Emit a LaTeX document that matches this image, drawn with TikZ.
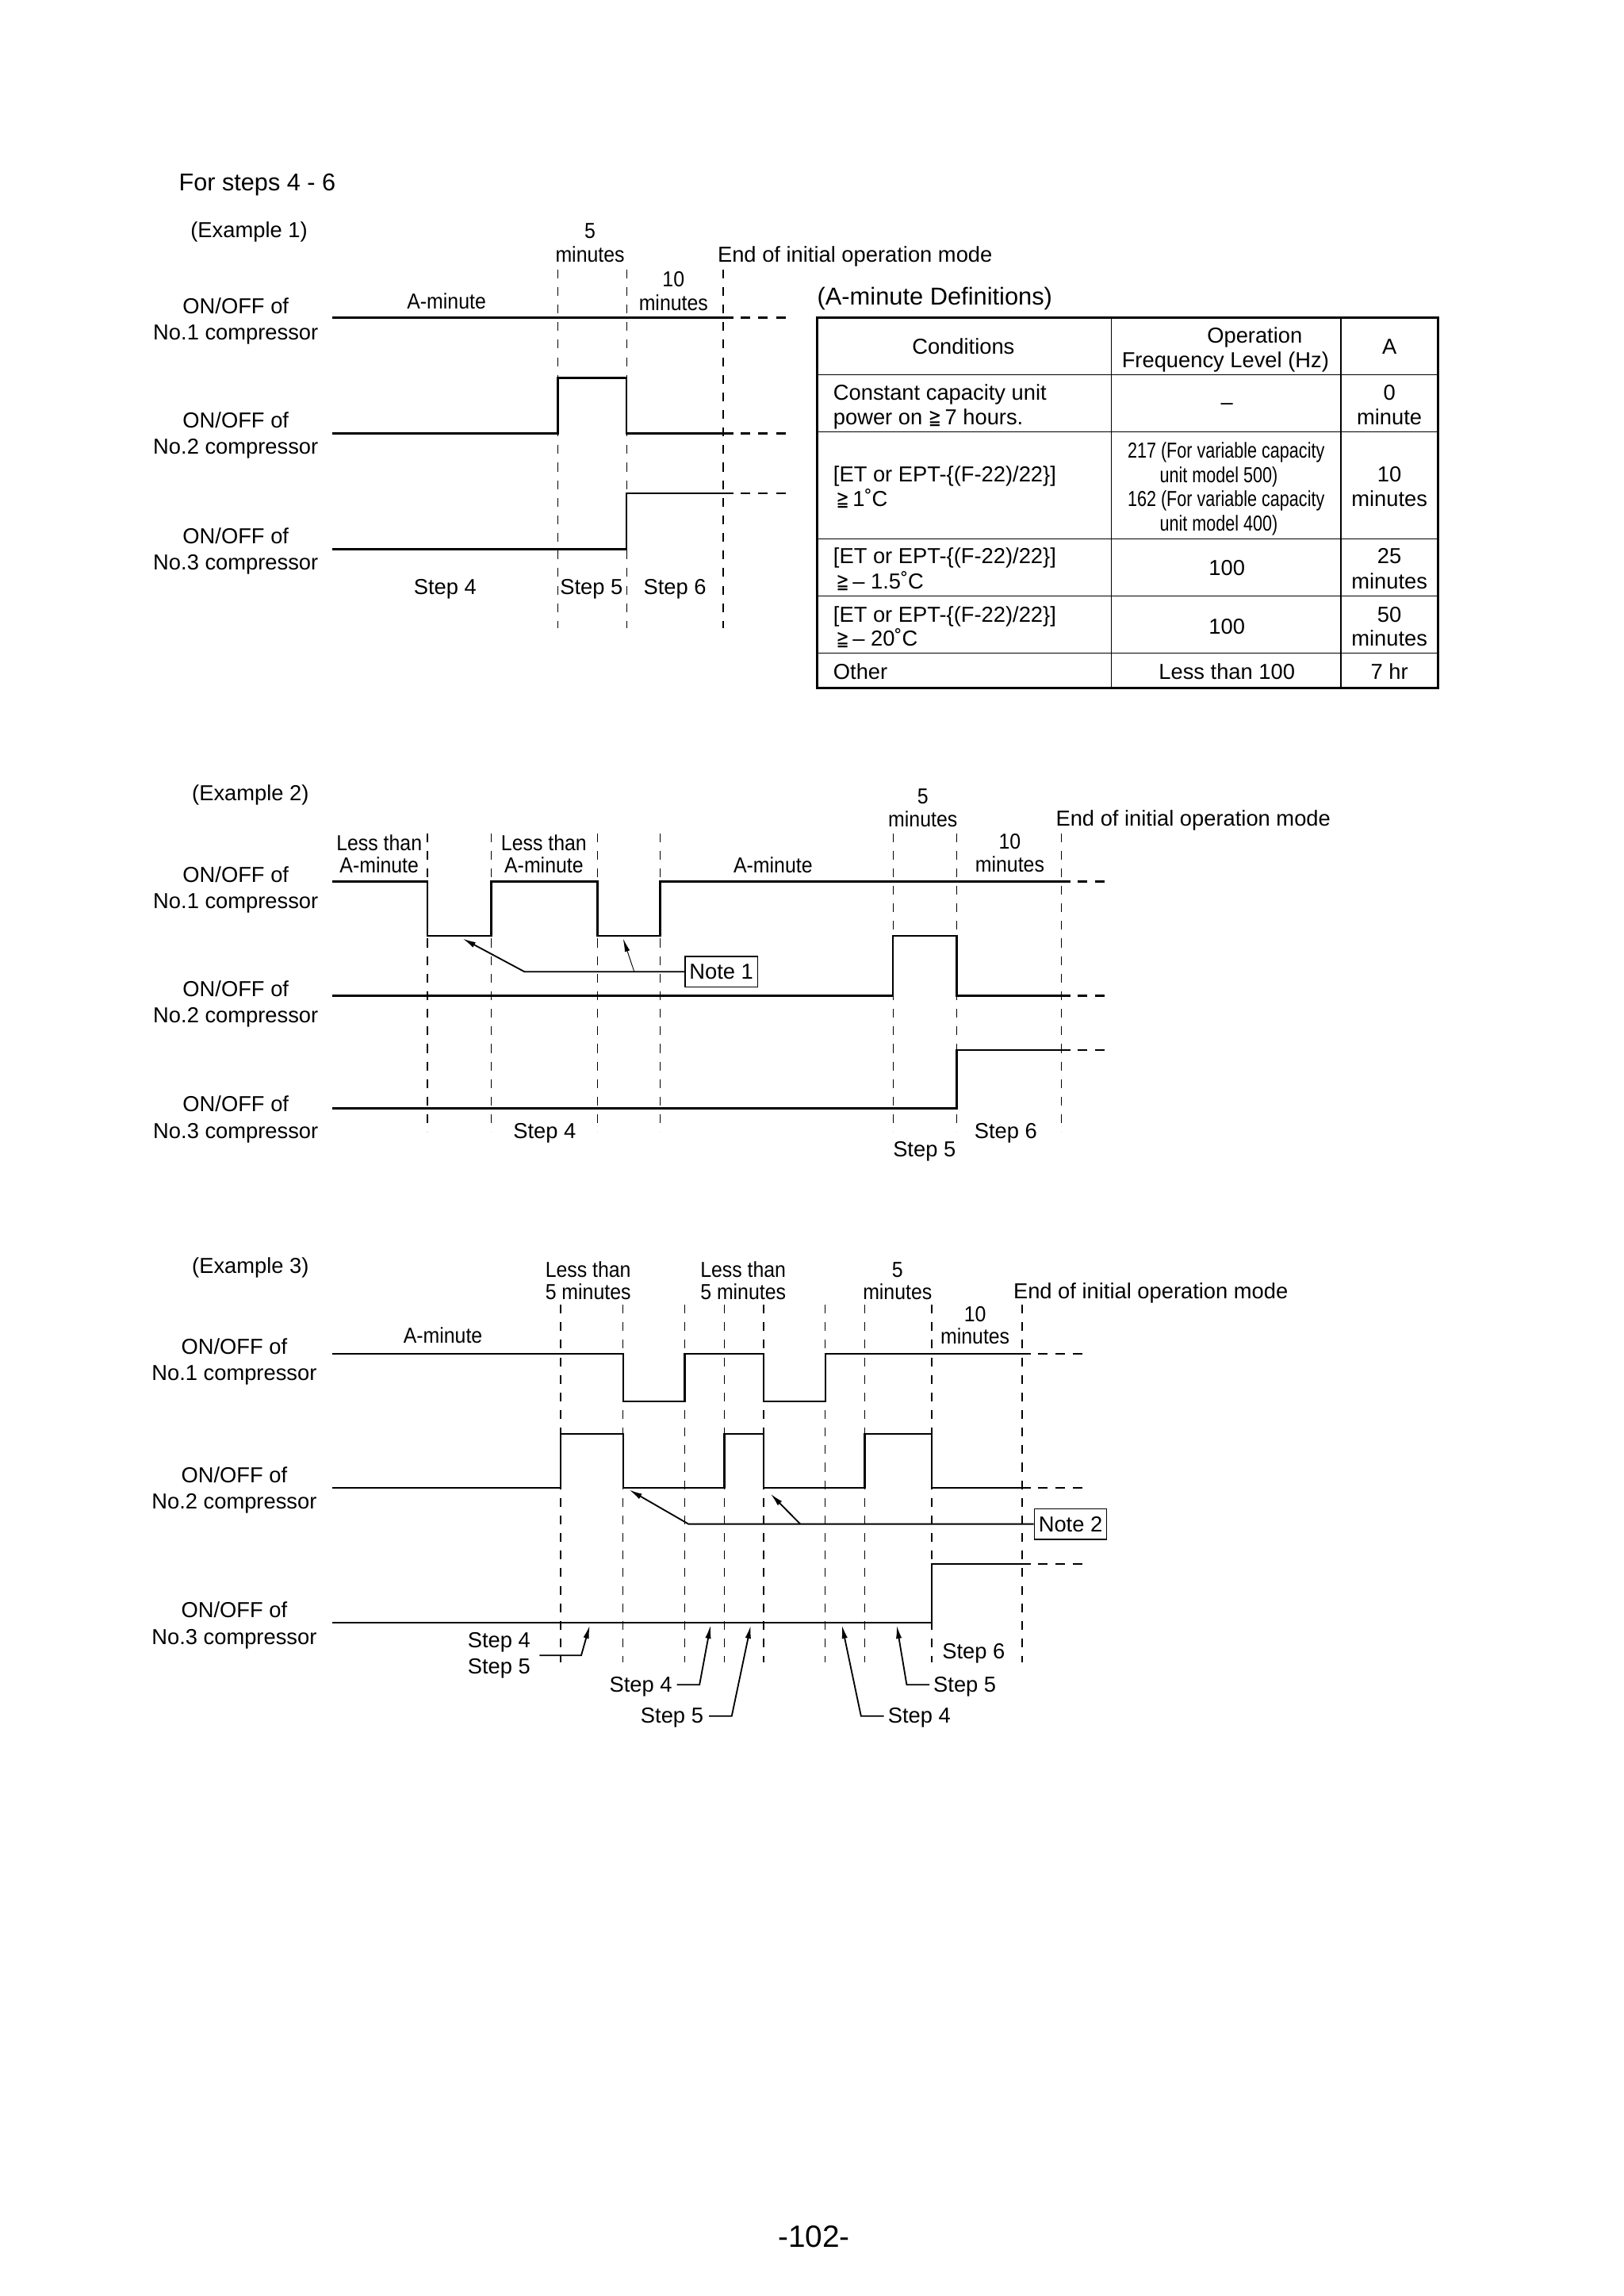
\documentclass[tikz,border=0pt]{standalone}
\usepackage{fontspec}
\setmainfont{Liberation Sans}
\newfontfamily\narrowfam[FakeStretch=0.91]{Liberation Sans}
\newfontfamily\xnarrowfam[FakeStretch=0.79]{Liberation Sans}
\newfontfamily\symfam[FakeStretch=0.72]{DejaVu Sans}
\usetikzlibrary{arrows.meta}
\newcommand\fmain{\fontsize{14.8}{18}\selectfont}
\newcommand\fnar{\narrowfam\fontsize{14.8}{15}\selectfont}
\newcommand\fxn{\xnarrowfam\fontsize{14.8}{16.5}\selectfont}
\newcommand\gqq{{\symfam\fontsize{14.5}{18}\selectfont ≧}}
\tikzset{
  sig/.style={line width=1.3pt, line join=miter, line cap=butt},
  tailline/.style={line width=1.3pt, dash pattern=on 6.5pt off 5.5pt},
  vguide/.style={line width=0.7pt, dash pattern=on 6pt off 6pt},
  txt/.style={inner sep=0pt, anchor=base, font=\fmain},
  nar/.style={inner sep=0pt, anchor=base, font=\fnar},
  xn/.style={inner sep=0pt, anchor=base west, font=\fxn},
  lab/.style={inner sep=0pt, align=center, font=\fmain, anchor=center},
  notebox/.style={draw, line width=0.8pt, inner sep=0pt, minimum width=49.5pt, minimum height=21pt, font=\fmain},
  lead/.style={line width=1.0pt, -{Latex[length=9pt,width=4pt]}},
  thinlead/.style={line width=0.5pt, -{Latex[length=9pt,width=3.5pt]}},
  tframe/.style={line width=1.6pt},
  tgrid/.style={line width=0.9pt},
}
\begin{document}
\begin{tikzpicture}[x=1pt,y=-1pt]
\fill[white] (0,0) rectangle (1109,1568);
\useasboundingbox (0,0) rectangle (1109,1568);

% ---------------- Title ----------------
\node[txt, anchor=base west, font=\fontsize{16.6}{20}\selectfont] (title) at (122,130) {For steps 4 - 6};

% ================= Example 1 =================
\node[txt, anchor=base west] (ex1) at (130,162) {(Example 1)};
\node[lab] (e1l1) at (161,219.5) {ON/OFF of\\No.1 compressor};
\node[lab] (e1l2) at (161,297.5) {ON/OFF of\\No.2 compressor};
\node[lab] (e1l3) at (161,376.5) {ON/OFF of\\No.3 compressor};

\foreach \x in {381,428,494} \draw[vguide] (\x,184) -- (\x,429);

\draw[sig] (227,217) -- (501,217);
\draw[tailline] (506,217) -- (537,217);
\draw[sig] (227,296) -- (381,296) -- (381,258) -- (428,258) -- (428,296) -- (501,296);
\draw[tailline] (506,296) -- (537,296);
\draw[sig] (227,375) -- (428,375) -- (428,337) -- (501,337);
\draw[tailline] (506,337) -- (537,337);

\node[nar] (e1t5) at (403,163) {5};
\node[nar] (e1t5m) at (403,179) {minutes};
\node[txt, anchor=base west] (e1end) at (490,179) {End of initial operation mode};
\node[nar] (e1t10) at (460,196) {10};
\node[nar] (e1t10m) at (460,212) {minutes};
\node[nar] (e1am) at (305,211) {A-minute};
\node[txt] (e1s4) at (304,406) {Step 4};
\node[txt] (e1s5) at (404,406) {Step 5};
\node[txt] (e1s6) at (461,406) {Step 6};

% ================= Table =================
\node[txt, anchor=base west, font=\fontsize{16.7}{20}\selectfont] (tdef) at (558,208) {(A-minute Definitions)};
\draw[tgrid] (759,217) -- (759,470) (916,217) -- (916,470);
\foreach \y in {256,295,368,407,446} \draw[tgrid] (558,\y) -- (982,\y);
\draw[tframe] (558,217) rectangle (982,470);

\node[txt] (th1) at (658,242) {Conditions};
\node[txt] (th2a) at (857,234) {Operation};
\node[txt] (th2b) at (837,251) {Frequency Level (Hz)};
\node[txt] (th3) at (949,242) {A};

\node[txt, anchor=base west] (r1a) at (569,273) {Constant capacity unit};
\node[txt, anchor=base west] (r1b) at (569,290) {power on \gqq\,7 hours.};
\node[txt] (r1f) at (838,280) {–};
\node[txt] (r1c) at (949,273) {0};
\node[txt] (r1d) at (949,290) {minute};

\node[txt, anchor=base west] (r2a) at (569,329) {[ET or EPT-\{(F-22)/22\}]};
\node[txt, anchor=base west] (r2b) at (571,346) {\gqq\,1˚C};
\node[xn] (r2f1) at (770,313) {217 (For variable capacity};
\node[xn] (r2f2) at (792,329.5) {unit model 500)};
\node[xn] (r2f3) at (770,346) {162 (For variable capacity};
\node[xn] (r2f4) at (792,362.5) {unit model 400)};
\node[txt] (r2c) at (949,329) {10};
\node[txt] (r2d) at (949,346) {minutes};

\node[txt, anchor=base west] (r3a) at (569,385) {[ET or EPT-\{(F-22)/22\}]};
\node[txt, anchor=base west] (r3b) at (571,402) {\gqq\,– 1.5˚C};
\node[txt] (r3f) at (838,393) {100};
\node[txt] (r3c) at (949,385) {25};
\node[txt] (r3d) at (949,402) {minutes};

\node[txt, anchor=base west] (r4a) at (569,425) {[ET or EPT-\{(F-22)/22\}]};
\node[txt, anchor=base west] (r4b) at (571,441) {\gqq\,– 20˚C};
\node[txt] (r4f) at (838,433) {100};
\node[txt] (r4c) at (949,425) {50};
\node[txt] (r4d) at (949,441) {minutes};

\node[txt, anchor=base west] (r5a) at (569,464) {Other};
\node[txt] (r5f) at (838,464) {Less than 100};
\node[txt] (r5c) at (949,464) {7 hr};

% ================= Example 2 =================
\node[txt, anchor=base west] (ex2) at (131,547) {(Example 2)};
\node[lab] (e2l1) at (161,607.5) {ON/OFF of\\No.1 compressor};
\node[lab] (e2l2) at (161,685.5) {ON/OFF of\\No.2 compressor};
\node[lab] (e2l3) at (161,764.5) {ON/OFF of\\No.3 compressor};

\foreach \x in {292,335.5,408,451,610,653.5,725} \draw[vguide] (\x,569) -- (\x,773);

\draw[sig] (227,602) -- (292,602) -- (292,639) -- (335.5,639) -- (335.5,602) -- (408,602) -- (408,639) -- (451,639) -- (451,602) -- (731,602);
\draw[tailline] (736,602) -- (759,602);
\draw[sig] (227,680) -- (610,680) -- (610,639) -- (653.5,639) -- (653.5,680) -- (731,680);
\draw[tailline] (736,680) -- (759,680);
\draw[sig] (227,757) -- (653.5,757) -- (653.5,717) -- (731,717);
\draw[tailline] (736,717) -- (759,717);

\node[nar] (e2la1) at (259,581) {Less than};
\node[nar] (e2la2) at (259,596) {A-minute};
\node[nar] (e2lb1) at (371.5,581) {Less than};
\node[nar] (e2lb2) at (371.5,596) {A-minute};
\node[nar] (e2am) at (528,596) {A-minute};
\node[nar] (e2t5) at (630.3,549) {5};
\node[nar] (e2t5m) at (630.3,564.5) {minutes};
\node[txt, anchor=base west] (e2end) at (721,564) {End of initial operation mode};
\node[nar] (e2t10) at (689.7,580) {10};
\node[nar] (e2t10m) at (689.7,595.5) {minutes};
\node[txt] (e2s4) at (372,777.5) {Step 4};
\node[txt] (e2s6) at (687,777.5) {Step 6};
\node[txt] (e2s5) at (631.4,790) {Step 5};

\node[notebox] (n1) at (492.7,663.6) {Note 1};
\coordinate (n1k) at (358.2,663.6);
\coordinate (n1b) at (433.2,663.6);
\coordinate (n1t1) at (316,641);
\coordinate (n1t2) at (425.6,641);
\draw[lead] (n1.west) -- (n1k) -- (n1t1);
\draw[thinlead] (n1b) -- (n1t2);

% ================= Example 3 =================
\node[txt, anchor=base west] (ex3) at (131,869.6) {(Example 3)};
\node[lab] (e3l1) at (160,929.8) {ON/OFF of\\No.1 compressor};
\node[lab] (e3l2) at (160,1017.5) {ON/OFF of\\No.2 compressor};
\node[lab] (e3l3) at (160,1110) {ON/OFF of\\No.3 compressor};

\foreach \x in {383,425.6,467.6,494.7,521.6,563.7,590.7,636.4,698.2} \draw[vguide] (\x,891) -- (\x,1135);

\draw[sig] (227,924.4) -- (425.6,924.4) -- (425.6,957.1) -- (467.6,957.1) -- (467.6,924.4) -- (521.6,924.4) -- (521.6,957.1) -- (563.7,957.1) -- (563.7,924.4) -- (704,924.4);
\draw[tailline] (709,924.4) -- (740,924.4);
\draw[sig] (227,1016.2) -- (383,1016.2) -- (383,979.4) -- (425.6,979.4) -- (425.6,1016.2) -- (494.7,1016.2) -- (494.7,979.4) -- (521.6,979.4) -- (521.6,1016.2) -- (590.7,1016.2) -- (590.7,979.4) -- (636.4,979.4) -- (636.4,1016.2) -- (704,1016.2);
\draw[tailline] (709,1016.2) -- (740,1016.2);
\draw[sig] (227,1108) -- (636.4,1108) -- (636.4,1068.1) -- (704,1068.1);
\draw[tailline] (709,1068.1) -- (740,1068.1);

\node[nar] (e3la1) at (401.7,872.3) {Less than};
\node[nar] (e3la2) at (401.7,887.3) {5 minutes};
\node[nar] (e3lb1) at (507.6,872.3) {Less than};
\node[nar] (e3lb2) at (507.6,887.3) {5 minutes};
\node[nar] (e3t5) at (613,872.3) {5};
\node[nar] (e3t5m) at (613,887.3) {minutes};
\node[txt, anchor=base west] (e3end) at (692,887) {End of initial operation mode};
\node[nar] (e3t10) at (666,902.8) {10};
\node[nar] (e3t10m) at (666,917.8) {minutes};
\node[nar] (e3am) at (302.5,917.4) {A-minute};

\node[notebox] (n2) at (731.2,1040.8) {Note 2};
\coordinate (n2k) at (470.3,1040.8);
\coordinate (n2b) at (546.6,1040.8);
\coordinate (n2t1) at (429.7,1017.4);
\coordinate (n2t2) at (526.3,1020.2);
\draw[lead] (n2.west) -- (n2k) -- (n2t1);
\draw[lead] (n2b) -- (n2t2);

% step labels
\node[lab, align=center, anchor=east] (s45) at (362.5,1130.5) {Step 4\\Step 5};
\draw[lead] ([xshift=6pt]s45.east) -- ++(28.5,0) -- (402.8,1110);

\node[txt, anchor=base east] (sa4) at (459.3,1155.5) {Step 4};
\draw[lead] ([xshift=3pt]sa4.base east) ++(0,-5) -- ++(15.5,0) -- (485.3,1110);

\node[txt, anchor=base east] (sa5) at (480.6,1176.9) {Step 5};
\draw[lead] ([xshift=3.7pt]sa5.base east) ++(0,-5) -- ++(15.5,0) -- (512.8,1110);

\node[txt, anchor=base west] (sb4) at (606.3,1176.9) {Step 4};
\draw[lead] ([xshift=-2.6pt]sb4.base west) ++(0,-5) -- ++(-15.6,0) -- (575.1,1110);

\node[txt, anchor=base west] (sb5) at (637.4,1155.5) {Step 5};
\draw[lead] ([xshift=-2.6pt]sb5.base west) ++(0,-5) -- ++(-15.5,0) -- (612.5,1110);

\node[txt] (s6) at (665,1133) {Step 6};

% page number
\node[txt, font=\fontsize{21}{25}\selectfont] (page) at (556,1534.5) {-102-};
\end{tikzpicture}
\end{document}
